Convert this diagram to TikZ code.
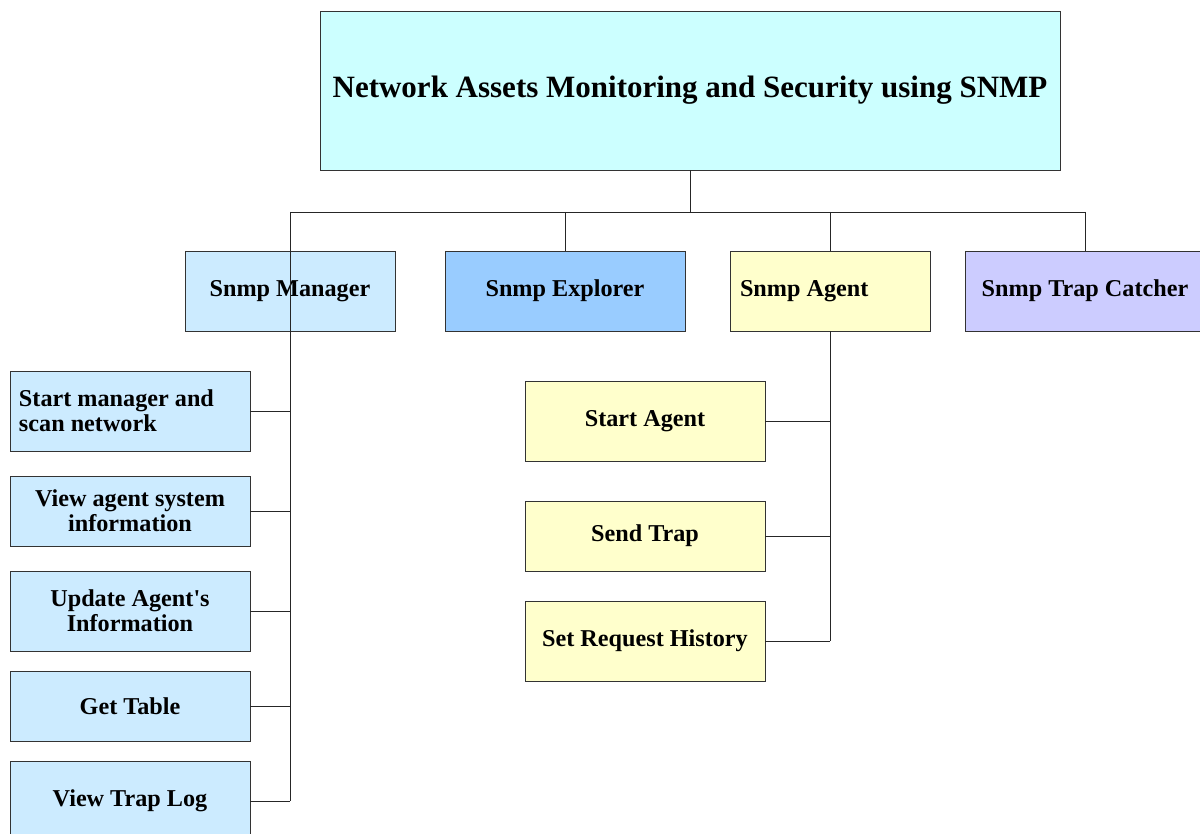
\documentclass[tikz,border=0pt]{standalone}
\usepackage{fontspec}
\setmainfont{Liberation Serif}
\definecolor{titlefill}{HTML}{CCFFFF}
\definecolor{mgrfill}{HTML}{CCEBFF}
\definecolor{explfill}{HTML}{99CCFF}
\definecolor{agtfill}{HTML}{FFFFCC}
\definecolor{trapfill}{HTML}{CCCCFF}
\tikzset{
  box/.style={draw=black!80, line width=0.7pt, inner sep=0pt, align=center,
              font=\bfseries\fontsize{24.2}{25}\selectfont},
  link/.style={draw=black!85, line width=0.8pt},
}
\begin{document}
\begin{tikzpicture}[x=1pt,y=-1pt]
\useasboundingbox (0,0) rectangle (1200,834);
\clip (0,0) rectangle (1200,834);

% root
\node[box, fill=titlefill, minimum width=740, minimum height=159,
      font=\bfseries\fontsize{31}{34}\selectfont] (root) at (690,90.5)
  {\raisebox{-3pt}{Network Assets Monitoring and Security using SNMP}};

% second level
\node[box, fill=mgrfill, minimum width=210, minimum height=80] (mgr) at (290,291) {Snmp Manager};
\node[box, fill=explfill, minimum width=240, minimum height=80] (expl) at (565,291) {Snmp Explorer};
\node[box, fill=agtfill, minimum width=200, minimum height=80, text width=180, align=flush left] (agt) at (830,291) {Snmp Agent};
\node[box, fill=trapfill, minimum width=240, minimum height=80] (trap) at (1085,291) {Snmp Trap Catcher};

% manager functions
\node[box, fill=mgrfill, minimum width=240, minimum height=80, text width=222, align=flush left] (m1) at (130,411) {Start manager and\\scan network};
\node[box, fill=mgrfill, minimum width=240, minimum height=70] (m2) at (130,511) {View agent system\\information};
\node[box, fill=mgrfill, minimum width=240, minimum height=80] (m3) at (130,611) {Update Agent\textquotesingle s\\Information};
\node[box, fill=mgrfill, minimum width=240, minimum height=70] (m4) at (130,706) {Get Table};
\node[box, fill=mgrfill, minimum width=240, minimum height=80] (m5) at (130,801) {View Trap Log};

% agent functions
\node[box, fill=agtfill, minimum width=240, minimum height=80] (a1) at (645,421) {Start Agent};
\node[box, fill=agtfill, minimum width=240, minimum height=70] (a2) at (645,536) {Send Trap};
\node[box, fill=agtfill, minimum width=240, minimum height=80] (a3) at (645,641) {Set Request History};

% bus level
\coordinate (bus) at (0,212);

% connectors
\draw[link] (root.south) -- (root.south |- bus);
\draw[link] (mgr.north |- bus) -- (trap.north |- bus);
\draw[link] (expl.north |- bus) -- (expl.north);
\draw[link] (agt.north |- bus) -- (agt.north);
\draw[link] (trap.north |- bus) -- (trap.north);
\draw[link] (mgr.north |- bus) -- (mgr.north |- m5.east);
\foreach \n in {m1,m2,m3,m4,m5}
  \draw[link] (\n.east) -- (\n.east -| mgr.north);
\draw[link] (agt.south) -- (agt.south |- a3.east);
\foreach \n in {a1,a2,a3}
  \draw[link] (\n.east) -- (\n.east -| agt.south);
\end{tikzpicture}
\end{document}
